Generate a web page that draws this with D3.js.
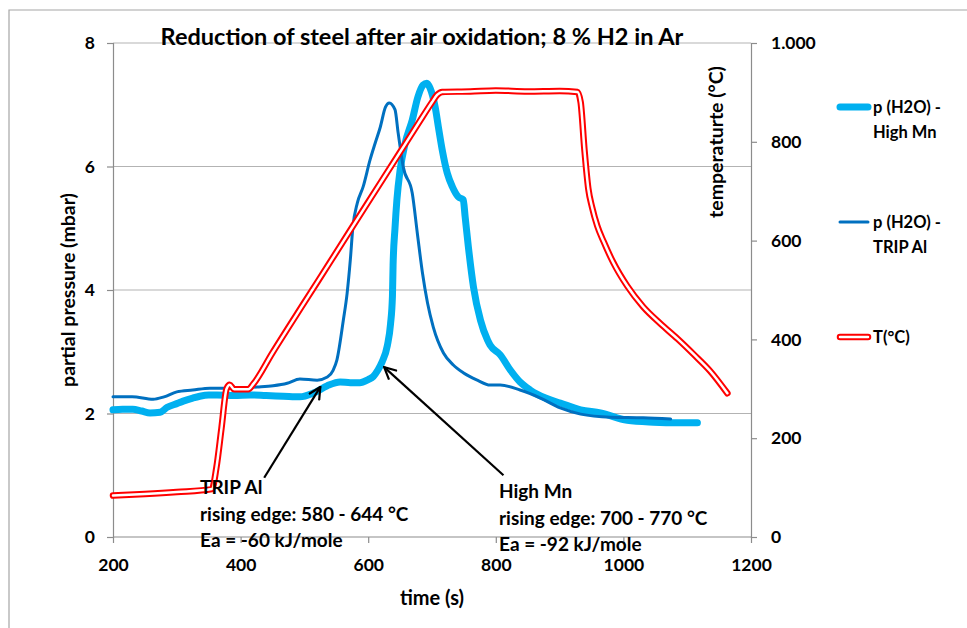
<!DOCTYPE html>
<html><head><meta charset="utf-8">
<script src="https://cdn.jsdelivr.net/npm/d3@7"></script>
<style>
html,body{margin:0;padding:0;background:#fff;}
svg text{font-family:Lato,"Open Sans",sans-serif;font-weight:bold;fill:#000;}
</style></head>
<body><svg id="c" width="967" height="628"></svg>
<script>
// ---- data ----
const title = "Reduction of steel after air oxidation; 8 % H2 in Ar";
const xTicks = [200, 400, 600, 800, 1000, 1200];
const yLeftTicks = [0, 2, 4, 6, 8];
const yRightTicks = [0, 200, 400, 600, 800, 1000];
const seriesNames = ["p (H2O) - High Mn", "p (H2O) - TRIP Al", "T(°C)"];

const timeHighMn = [200,215,231,245,258,274,285,300,310,325,336,350,363,390,415,440,467,493,514,536,556,572,587,600,608,615,622,630,635,638,639,642,645,650,658,669,678,686,692,697,705,710,716,724,732,741,749,752,757,765,776,787,791,807,823,838,854,878,901,933,964,1006,1047,1085,1116];
const pHighMn = [2.06,2.07,2.07,2.04,2.01,2.02,2.10,2.16,2.20,2.25,2.28,2.30,2.30,2.29,2.30,2.29,2.28,2.27,2.33,2.45,2.51,2.50,2.50,2.55,2.60,2.70,2.84,3.10,3.45,3.90,4.40,5.00,5.46,5.94,6.38,6.75,7.13,7.32,7.35,7.27,6.96,6.64,6.27,5.89,5.67,5.51,5.46,5.18,4.70,4.05,3.51,3.19,3.11,2.95,2.70,2.51,2.38,2.25,2.17,2.06,2.01,1.89,1.86,1.85,1.85];

const timeTripAl = [200,230,263,280,300,325,352,388,426,451,473,493,520,536,545,551,561,567,572,576,583,592,603,611,619,627,633,642,647,655,669,677,685,693,702,718,733,749,771,791,807,838,870,901,933,980,1031,1074];
const pTripAl = [2.27,2.27,2.23,2.27,2.35,2.38,2.41,2.41,2.43,2.45,2.49,2.56,2.54,2.59,2.70,2.87,3.51,3.95,4.49,5.02,5.41,5.67,6.11,6.38,6.64,6.96,7.03,6.92,6.54,5.99,5.57,4.92,4.28,3.79,3.40,2.98,2.79,2.66,2.54,2.46,2.46,2.38,2.25,2.09,1.99,1.94,1.93,1.91];

const timeTemp = [200,250,300,355,362,370,378,383,390,412,420,450,500,540,600,645,680,700,708,716,760,800,850,900,928,933,939,945,951,959,969,984,1006,1031,1058,1085,1110,1136,1163];
const tempC = [84,87,91,97,140,220,300,308,299,299,310,373,475,556,678,769,840,880,895,901,902,904,902,903,901,880,783,705,667,630,598,556,508,466,432,401,370,336,291];

const annotations = [
  {lines:["TRIP Al","rising edge: 580 - 644 °C","Ea = -60 kJ/mole"], tipT:525, tipP:2.43, tailT:437, tailP:0.96},
  {lines:["High Mn","rising edge: 700 - 770 °C","Ea = -92 kJ/mole"], tipT:625, tipP:2.75, tailT:812, tailP:1.0}
];

// ---- layout ----
const svg = d3.select("#c");
const L = 113, R = 751, T = 43, B = 537;
const x = d3.scaleLinear().domain([200, 1200]).range([L, R]);
const y = d3.scaleLinear().domain([0, 8]).range([B, T]);
const y2 = d3.scaleLinear().domain([0, 1000]).range([B, T]);
const de = d3.formatLocale({decimal:",", thousands:".", grouping:[3], currency:["","€"]});
const fmtT = de.format(",d");

// outer border
svg.append("path").attr("d", `M9,640 L9,10 L980,10`).attr("fill","none").attr("stroke","#a6a6a6").attr("stroke-width",1.2);

// gridlines
svg.append("g").selectAll("line").data(yLeftTicks.filter(d=>d>0)).join("line")
  .attr("x1", L).attr("x2", R).attr("y1", d=>y(d)).attr("y2", d=>y(d))
  .attr("stroke","#b3b3b3").attr("stroke-width",1.2);

// axes
const axisColor = "#8c8c8c";
const gx = svg.append("g").attr("transform",`translate(0,${B})`)
  .call(d3.axisBottom(x).tickValues(xTicks).tickSize(6).tickPadding(16).tickFormat(d3.format("d")));
const gy = svg.append("g").attr("transform",`translate(${L},0)`)
  .call(d3.axisLeft(y).tickValues(yLeftTicks).tickSize(6).tickPadding(12));
const gy2 = svg.append("g").attr("transform",`translate(${R},0)`)
  .call(d3.axisRight(y2).tickValues(yRightTicks).tickSize(6).tickPadding(14).tickFormat(fmtT));
[gx,gy,gy2].forEach(g=>{
  g.selectAll(".domain").attr("stroke",axisColor).attr("stroke-width",1.2);
  g.selectAll(".tick line").attr("stroke",axisColor).attr("stroke-width",1.2);
  g.selectAll("text").style("font-size","17.5px").style("font-family","Lato,'Open Sans',sans-serif").style("font-weight","bold").attr("fill","#000");
});
gx.select(".domain").attr("d", `M${L},0H${R}`);

// lines
const lineHM = d3.line().x((d,i)=>x(timeHighMn[i])).y(d=>y(d)).curve(d3.curveMonotoneX);
const lineTA = d3.line().x((d,i)=>x(timeTripAl[i])).y(d=>y(d)).curve(d3.curveMonotoneX);
const lineT = d3.line().x((d,i)=>x(timeTemp[i])).y(d=>y2(d)).curve(d3.curveMonotoneX);

svg.append("path").attr("d", lineHM(pHighMn)).attr("fill","none").attr("stroke","#00b0f0")
  .attr("stroke-width",7).attr("stroke-linejoin","round").attr("stroke-linecap","round");
svg.append("path").attr("d", lineTA(pTripAl)).attr("fill","none").attr("stroke","#0070c0")
  .attr("stroke-width",3).attr("stroke-linejoin","round").attr("stroke-linecap","round");
svg.append("path").attr("d", lineT(tempC)).attr("fill","none").attr("stroke","#ff0000")
  .attr("stroke-width",6.5).attr("stroke-linejoin","round").attr("stroke-linecap","round");
svg.append("path").attr("d", lineT(tempC)).attr("fill","none").attr("stroke","#fff")
  .attr("stroke-width",2.5).attr("stroke-linejoin","round").attr("stroke-linecap","round");

// annotations
svg.append("defs").append("marker").attr("id","ah").attr("viewBox","0 0 14 14")
  .attr("refX",13).attr("refY",7).attr("markerWidth",14).attr("markerHeight",14)
  .attr("markerUnits","userSpaceOnUse").attr("orient","auto")
  .append("path").attr("d","M1,1 L13,7 L1,13").attr("fill","none").attr("stroke","#000").attr("stroke-width",2.2);
annotations.forEach(a=>{
  svg.append("line").attr("x1",x(a.tailT)).attr("y1",y(a.tailP)).attr("x2",x(a.tipT)).attr("y2",y(a.tipP))
    .attr("stroke","#000").attr("stroke-width",2.2).attr("marker-end","url(#ah)");
});
const annX = [200, 499], annY = [494, 498];
annotations.forEach((a,k)=>{
  a.lines.forEach((s,i)=>{
    svg.append("text").attr("x", annX[k]).attr("y", annY[k] + i*26.5).style("font-size","19px").text(s);
  });
});

// title & axis titles
svg.append("text").attr("x",422).attr("y",45).attr("text-anchor","middle").style("font-size","23.5px").text(title);
svg.append("text").attr("x",432).attr("y",605).attr("text-anchor","middle").style("font-size","20px").text("time (s)");
svg.append("text").attr("transform","translate(75,290) rotate(-90)").attr("text-anchor","middle").style("font-size","19.5px").text("partial pressure (mbar)");
svg.append("text").attr("transform","translate(723,142) rotate(-90)").attr("text-anchor","middle").style("font-size","19.5px").text("temperaturte (°C)");

// legend
const legY = [107, 222, 337];
const legLines = [["p (H2O) -","High Mn"],["p (H2O) -","TRIP Al"],["T(°C)"]];
const lg = svg.append("g");
lg.append("line").attr("x1",840).attr("x2",868).attr("y1",legY[0]).attr("y2",legY[0]).attr("stroke","#00b0f0").attr("stroke-width",7).attr("stroke-linecap","round");
lg.append("line").attr("x1",840).attr("x2",868).attr("y1",legY[1]).attr("y2",legY[1]).attr("stroke","#0070c0").attr("stroke-width",3).attr("stroke-linecap","round");
lg.append("line").attr("x1",840).attr("x2",868).attr("y1",legY[2]).attr("y2",legY[2]).attr("stroke","#ff0000").attr("stroke-width",6.5).attr("stroke-linecap","round");
lg.append("line").attr("x1",840).attr("x2",868).attr("y1",legY[2]).attr("y2",legY[2]).attr("stroke","#fff").attr("stroke-width",2.5).attr("stroke-linecap","round");
legLines.forEach((ls,k)=>{
  ls.forEach((s,i)=>{
    lg.append("text").attr("x",873).attr("y",legY[k]+6+i*25).style("font-size","16.5px").text(s);
  });
});
</script></body></html>
